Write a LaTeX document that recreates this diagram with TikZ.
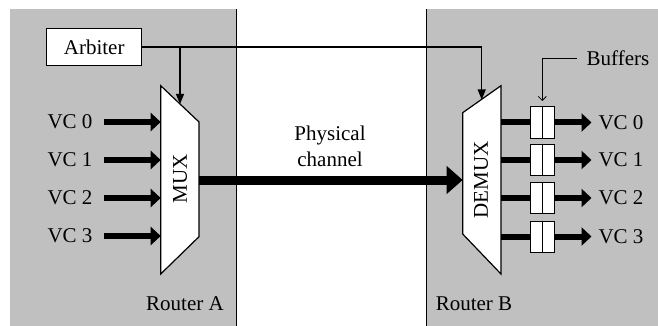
\documentclass[tikz,border=0pt]{standalone}
\usepackage{fontspec}
\setmainfont{Liberation Serif}
\usetikzlibrary{arrows.meta}
\definecolor{panel}{RGB}{192,192,192}
\begin{document}
\begin{tikzpicture}[x=1pt,y=-1pt,
  lbl/.style={font=\fontsize{21}{26}\selectfont, inner sep=0pt},
  ctrlarrow/.style={line width=1.1pt, -{Triangle[length=10pt,width=8pt]}},
  vcarrow/.style={line width=6pt, -{Triangle[length=10pt,width=18pt]}},
  vcline/.style={line width=6pt},
  chanarrow/.style={line width=9pt, -{Triangle[length=16pt,width=27pt]}},
  muxshape/.style={draw, line width=1.2pt, fill=white},
  bufbox/.style={draw, line width=1pt, fill=white, minimum width=24pt, minimum height=31pt, inner sep=0pt},
  pointer/.style={line width=0.8pt, -{Straight Barb[length=4pt,width=8pt]}},
  edge/.style={line width=1pt}
]
\useasboundingbox (0,0) rectangle (658,326);
% panels
\fill[panel] (10,9) rectangle (236.5,326);
\draw[edge] (236.5,9) -- (236.5,326);
\fill[panel] (426,9) rectangle (658,326);
\draw[edge] (426,9) -- (426,326);

% MUX
\coordinate (m1) at (160.7,85.7);
\coordinate (m2) at (199,122);
\coordinate (m3) at (199,236.7);
\coordinate (m4) at (160.7,274);
\draw[muxshape] (m1) -- (m2) -- (m3) -- (m4) -- cycle;
\node[lbl, rotate=90] (muxlbl) at (180,179) {MUX};

% DEMUX
\coordinate (d1) at (462.7,112.7);
\coordinate (d2) at (501,85.7);
\coordinate (d3) at (501,274);
\coordinate (d4) at (462.7,234);
\draw[muxshape] (d1) -- (d2) -- (d3) -- (d4) -- cycle;
\node[lbl, rotate=90] (demuxlbl) at (481,180) {DEMUX};

% Arbiter
\node[draw, line width=1.2pt, fill=white, minimum width=95pt, minimum height=37pt, lbl] (arb) at (94.2,47) {Arbiter};
\coordinate (mtop) at (180,104);
\coordinate (dtop) at (481.7,99.5);
\draw[ctrlarrow] (arb.east) -| (dtop);
\draw[ctrlarrow] (arb.east -| mtop) -- (mtop);

% inputs
\foreach \i/\y in {0/122,1/160,2/198,3/236} {
  \node[lbl] (in\i) at (70,\y) {VC \i};
  \coordinate (is\i) at (104,\y);
  \coordinate (ie\i) at (160.7,\y);
  \draw[vcarrow] (is\i) -- (ie\i);
}

% channel
\coordinate (mout) at (199,180);
\coordinate (din) at (462.7,180);
\draw[chanarrow] (mout) -- (din);
\node[lbl, align=center] (phys) at (330,146) {Physical\\channel};

% outputs
\foreach \i/\y in {0/122.5,1/160,2/198,3/236.5} {
  \coordinate (do\i) at (501,\y);
  \node[bufbox] (b\i) at (542.3,\y) {};
  \draw[line width=1pt] (b\i.north) -- (b\i.south);
  \coordinate (oe\i) at (591.5,\y);
  \draw[vcline] (do\i) -- (b\i.west);
  \draw[vcarrow] (b\i.east) -- (oe\i);
  \node[lbl] (out\i) at (621,\y) {VC \i};
}

% Buffers label
\node[lbl] (buflbl) at (618,58) {Buffers};
\coordinate (bptr) at (542.3,101);
\draw[pointer] (576.5,58.3) -| (bptr);

% router labels
\node[lbl] (ra) at (185,304) {Router A};
\node[lbl] (rb) at (474,304) {Router B};
\end{tikzpicture}
\end{document}
